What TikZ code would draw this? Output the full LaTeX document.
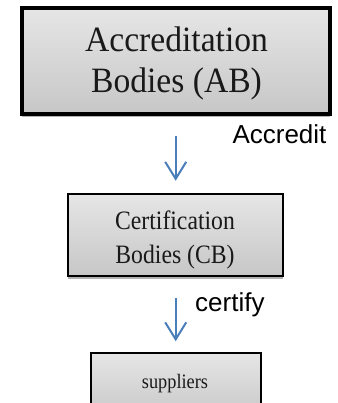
\documentclass[tikz,border=0pt]{standalone}
\usepackage{fontspec}
\setmainfont{Liberation Serif}
\newfontfamily\arialfont{Liberation Sans}
\usetikzlibrary{arrows.meta,shadows}
\definecolor{arrblue}{HTML}{4A7EBB}
\tikzset{
  bodybox/.style={draw=black, rectangle, inner sep=0pt,
    top color=black!10, bottom color=black!22,
    drop shadow={shadow xshift=0pt, shadow yshift=-3pt, opacity=0.3, fill=black}},
  boxtext/.style={inner sep=0pt, align=center, text=black!90},
  flowarrow/.style={draw=arrblue, line width=2pt,
    -{Straight Barb[length=17pt,width=21pt,line width=2pt]}},
  relabel/.style={inner sep=0pt, anchor=base west, text=black,
    font=\arialfont\fontsize{26}{30}\selectfont}
}
\begin{document}
\begin{tikzpicture}[x=1pt,y=-1pt]
\useasboundingbox (0,0) rectangle (337,403);
\clip (0,0) rectangle (337,403);
% boxes
\node[bodybox, line width=3.5pt, minimum width=308pt, minimum height=106pt] (ab) at (176,61) {};
\node[boxtext, font=\fontsize{33.6}{39}\selectfont] (abtext) at (176.5,63.7)
  {\scalebox{1}[1.06]{\begin{tabular}{@{}c@{}}Accreditation\\[0pt]Bodies (AB)\end{tabular}}};
\node[bodybox, line width=2.5pt, minimum width=215pt, minimum height=82pt] (cb) at (175.5,235) {};
\node[boxtext, font=\fontsize{23.7}{30.5}\selectfont] (cbtext) at (175,239.3)
  {\scalebox{1}[1.12]{\begin{tabular}{@{}c@{}}Certification\\[0pt]Bodies (CB)\end{tabular}}};
\node[bodybox, line width=2.5pt, minimum width=170pt, minimum height=67pt] (sup) at (176,386.5) {};
\node[boxtext, anchor=base, font=\fontsize{18.3}{22}\selectfont] (suptext) at (175,388)
  {\scalebox{1}[1.12]{suppliers}};
% connectors
\draw[flowarrow, shorten <=20.5pt, shorten >=12pt] (ab.south -| 175.7,0) -- (cb.north -| 175.7,0);
\draw[flowarrow, shorten <=20.5pt, shorten >=10.5pt] (cb.south -| 175.7,0) -- (sup.north -| 175.7,0);
% labels
\node[relabel] (accr) at (232.3,144) {Accredit};
\node[relabel] (cert) at (195,311.5) {certify};
\end{tikzpicture}
\end{document}
